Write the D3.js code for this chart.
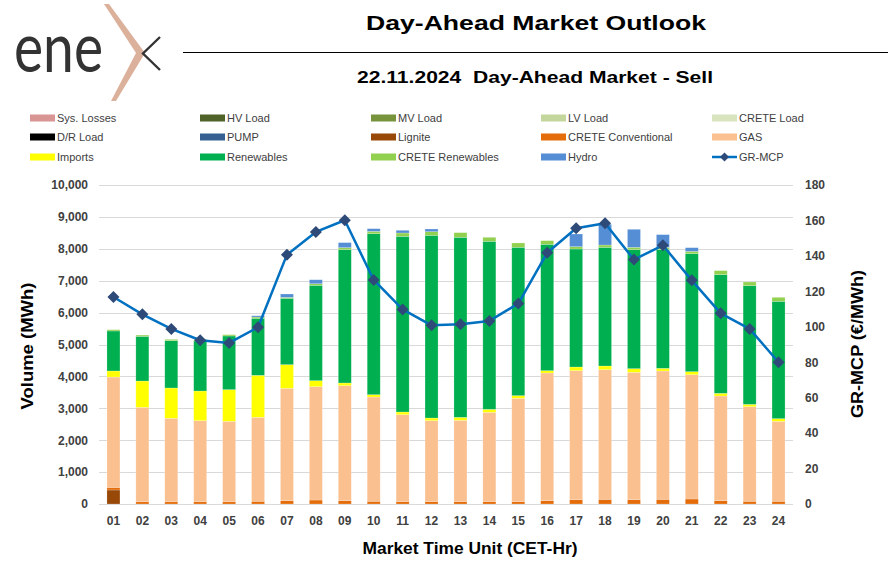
<!DOCTYPE html>
<html><head><meta charset="utf-8">
<script src="https://cdn.jsdelivr.net/npm/d3@7"></script>
<style>
body{margin:0;background:#fff;}
svg{display:block;font-family:"Liberation Sans",Arial,sans-serif;}
</style></head>
<body><svg id="c" width="888" height="570"></svg>
<script>
const hours = ["01","02","03","04","05","06","07","08","09","10","11","12","13","14","15","16","17","18","19","20","21","22","23","24"];
const sysLosses = new Array(24).fill(0);
const hvLoad = new Array(24).fill(0);
const mvLoad = new Array(24).fill(0);
const lvLoad = new Array(24).fill(0);
const creteLoad = new Array(24).fill(0);
const drLoad = new Array(24).fill(0);
const pump = new Array(24).fill(0);
const lignite = [440,0,0,0,0,0,0,0,0,0,0,0,0,0,0,0,0,0,0,0,0,0,0,0];
const creteConv = [80,70,70,70,70,85,105,125,105,85,75,75,75,75,75,105,136,146,136,146,157,105,85,85];
const gas = [3460,2960,2616,2542,2522,2632,3521,3553,3605,3269,2725,2537,2548,2799,3238,4002,4044,4065,3992,4024,3897,3281,2966,2507];
const imports = [190,825,951,930,993,1317,742,188,84,73,84,84,94,94,84,73,115,115,115,84,94,84,73,84];
const renewables = [1254,1400,1484,1568,1683,1787,2080,2989,4180,5047,5507,5726,5643,5267,4650,3960,3699,3720,3731,3720,3699,3720,3720,3678];
const creteRen = [40,40,40,40,40,40,30,50,63,73,105,115,146,125,136,115,73,73,73,73,73,125,115,125];
const hydro = [0,0,0,0,0,40,105,125,157,84,84,84,0,0,0,0,397,650,564,397,115,0,0,0];
const grMcp = [116.8,107.0,98.8,92.4,90.9,99.7,140.7,153.5,160.1,126.4,109.8,100.8,101.4,103.3,113.1,141.8,155.6,158.4,137.9,146.0,126.2,107.6,98.8,80.0];
const volTicks = [0,1000,2000,3000,4000,5000,6000,7000,8000,9000,10000];
const priceTicks = [0,20,40,60,80,100,120,140,160,180];

const seriesNames = ["Sys. Losses","HV Load","MV Load","LV Load","CRETE Load","D/R Load","PUMP","Lignite","CRETE Conventional","GAS","Imports","Renewables","CRETE Renewables","Hydro"];
const seriesData = [sysLosses,hvLoad,mvLoad,lvLoad,creteLoad,drLoad,pump,lignite,creteConv,gas,imports,renewables,creteRen,hydro];
const seriesColors = ["#d99594","#4f6228","#77933c","#c3d69b","#d7e4bd","#000000","#376092","#984807","#e46c0a","#fac090","#ffff00","#00b050","#92d050","#558ed5"];
const lineColor = "#0070c0", markerColor = "#2e4a78";

const svg = d3.select("#c");
const L=99,R=793,T=185,B=504;

// Logo
const logo = svg.append("g");
logo.append("text").attr("x",14).attr("y",72).attr("font-family","Lato, 'Open Sans', sans-serif")
  .attr("font-weight",400).attr("font-size",70).attr("fill","#333")
  .attr("textLength",89).attr("lengthAdjust","spacingAndGlyphs").text("ene");
logo.append("path").attr("d","M104,4 L109,4 L145,53 L116,101 L111,101 L136,53 Z").attr("fill","#dcb19c");
logo.append("path").attr("d","M160,37 L143,53.5 L160,70").attr("fill","none").attr("stroke","#333").attr("stroke-width",2.4);

// Titles
svg.append("text").attr("x",536).attr("y",30).attr("text-anchor","middle").attr("font-weight","bold")
  .attr("font-size",21).attr("fill","#000").attr("textLength",340).attr("lengthAdjust","spacingAndGlyphs").text("Day-Ahead Market Outlook");
svg.append("line").attr("x1",183).attr("x2",888).attr("y1",52.5).attr("y2",52.5).attr("stroke","#000").attr("stroke-width",1);
svg.append("text").attr("x",535).attr("y",83).attr("text-anchor","middle").attr("font-weight","bold")
  .style("white-space","pre")
  .attr("font-size",17).attr("fill","#000").attr("textLength",356).attr("lengthAdjust","spacingAndGlyphs").text("22.11.2024  Day-Ahead Market - Sell");

// Scales
const x = d3.scaleBand().domain(hours).range([L,R]).paddingInner(0.55).paddingOuter(0.275);
const y = d3.scaleLinear().domain([0,10000]).range([B,T]);
const y2 = d3.scaleLinear().domain([0,180]).range([B,T]);

// grid
svg.append("g").selectAll("line").data(volTicks).join("line")
  .attr("x1",L).attr("x2",R).attr("y1",d=>Math.round(y(d))+0.5).attr("y2",d=>Math.round(y(d))+0.5)
  .attr("stroke","#d9d9d9").attr("stroke-width",1);

// stacked bars
const table = hours.map((h,i)=>{const o={hour:h}; seriesNames.forEach((n,k)=>o[n]=seriesData[k][i]); return o;});
const stack = d3.stack().keys(seriesNames)(table);
const gb = svg.append("g");
stack.forEach((s,k)=>{
  gb.append("g").attr("fill",seriesColors[k]).selectAll("rect").data(s.filter(d=>d[1]-d[0]>0)).join("rect")
    .attr("x",d=>x(d.data.hour)).attr("width",x.bandwidth())
    .attr("y",d=>y(d[1])).attr("height",d=>y(d[0])-y(d[1]))
    .attr("stroke","rgba(255,255,255,0.35)").attr("stroke-width",0.6);
});

// axes
const fmt = d3.format(",");
const ax = svg.append("g").attr("transform",`translate(${L-11},0)`)
  .call(d3.axisLeft(y).tickValues(volTicks).tickFormat(fmt).tickSize(0).tickPadding(0));
const ax2 = svg.append("g").attr("transform",`translate(${R+12},0)`)
  .call(d3.axisRight(y2).tickValues(priceTicks).tickSize(0).tickPadding(0));
const ax3 = svg.append("g").attr("transform",`translate(0,${B})`)
  .call(d3.axisBottom(x).tickSize(0).tickPadding(12));
[ax,ax2,ax3].forEach(a=>{a.select(".domain").remove();
  a.selectAll("text").attr("font-family","'Liberation Sans',Arial,sans-serif").attr("font-weight","bold").attr("font-size",12).attr("fill","#404040");});

// line
const line = d3.line().x((d,i)=>x(hours[i])+x.bandwidth()/2).y(d=>y2(d));
svg.append("path").datum(grMcp).attr("d",line).attr("fill","none").attr("stroke",lineColor).attr("stroke-width",2.5).attr("stroke-linejoin","round");
svg.append("g").selectAll("path").data(grMcp).join("path")
  .attr("d",d3.symbol(d3.symbolSquare,72))
  .attr("transform",(d,i)=>`translate(${x(hours[i])+x.bandwidth()/2},${y2(d)}) rotate(45)`)
  .attr("fill",markerColor);

// axis titles
svg.append("text").attr("transform","translate(33,346) rotate(-90)").attr("text-anchor","middle")
  .attr("font-weight","bold").attr("font-size",17).attr("fill","#000").attr("textLength",127).attr("lengthAdjust","spacingAndGlyphs").text("Volume (MWh)");
svg.append("text").attr("transform","translate(863,344) rotate(-90)").attr("text-anchor","middle")
  .attr("font-weight","bold").attr("font-size",17).attr("fill","#000").attr("textLength",148).attr("lengthAdjust","spacingAndGlyphs").text("GR-MCP (€/MWh)");
svg.append("text").attr("x",470).attr("y",554).attr("text-anchor","middle")
  .attr("font-weight","bold").attr("font-size",17).attr("fill","#000").attr("textLength",215).attr("lengthAdjust","spacingAndGlyphs").text("Market Time Unit (CET-Hr)");

// legend
const legItems = seriesNames.map((n,k)=>({name:n,color:seriesColors[k],type:"bar"})).concat([{name:"GR-MCP",type:"line"}]);
const colX = [30,200,371,541,712], rowY=[118,137,157];
const lg = svg.append("g").selectAll("g").data(legItems).join("g")
  .attr("transform",(d,i)=>`translate(${colX[i%5]},${rowY[Math.floor(i/5)]})`);
lg.filter(d=>d.type==="bar").append("rect").attr("x",0).attr("y",-3.5).attr("width",25).attr("height",7).attr("fill",d=>d.color);
const ll = lg.filter(d=>d.type==="line");
ll.append("line").attr("x1",0).attr("x2",25).attr("y1",0).attr("y2",0).attr("stroke",lineColor).attr("stroke-width",2.5);
ll.append("path").attr("d",d3.symbol(d3.symbolSquare,40)).attr("transform","translate(12.5,0) rotate(45)").attr("fill",markerColor);
lg.append("text").attr("x",27).attr("y",4).attr("font-size",11).attr("fill","#404040").text(d=>d.name);
</script></body></html>
